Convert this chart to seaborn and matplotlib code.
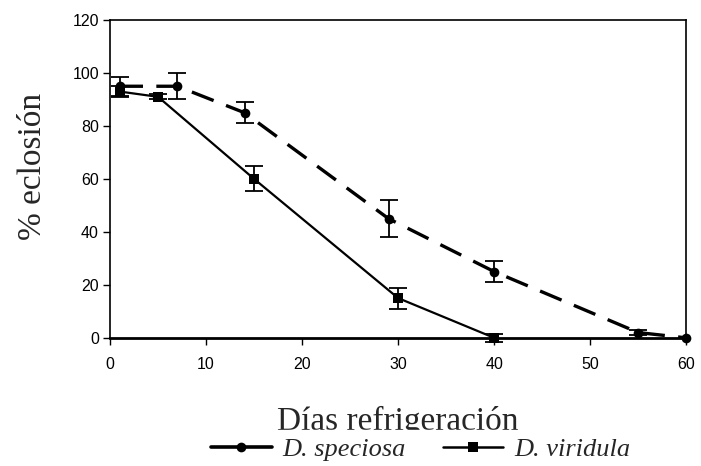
import matplotlib
matplotlib.use("Agg")
import matplotlib.pyplot as plt
from matplotlib.lines import Line2D
import seaborn as sns
import pandas as pd

# Hatching (%) after days of refrigeration, mean ± error
dias_speciosa = [1, 7, 14, 29, 40, 55, 60]
eclosion_speciosa = [95, 95, 85, 45, 25, 2, 0]
error_speciosa = [3.5, 5, 4, 7, 4, 1, 0]

dias_viridula = [1, 5, 15, 30, 40]
eclosion_viridula = [93, 91, 60, 15, 0]
error_viridula = [2, 1, 4.7, 4, 1.5]

x_ticks = [0, 10, 20, 30, 40, 50, 60]
y_ticks = [0, 20, 40, 60, 80, 100, 120]

df_sp = pd.DataFrame({"dias": dias_speciosa, "eclosion": eclosion_speciosa, "err": error_speciosa})
df_vi = pd.DataFrame({"dias": dias_viridula, "eclosion": eclosion_viridula, "err": error_viridula})

sns.set_style("white")
plt.rcParams["font.family"] = ["Liberation Sans", "DejaVu Sans"]

fig = plt.figure(figsize=(7.01, 4.66), dpi=100)
ax = fig.add_axes([0.157, 0.275, 0.822, 0.682])

sns.lineplot(data=df_sp, x="dias", y="eclosion", ax=ax, color="black",
             linewidth=2.4, marker="o", markersize=7, markeredgewidth=0,
             dashes=False, zorder=3)
ax.lines[-1].set_dashes((7, 4))
sns.lineplot(data=df_vi, x="dias", y="eclosion", ax=ax, color="black",
             linewidth=1.6, marker="s", markersize=6.5, markeredgewidth=0,
             zorder=3)
for ln in ax.lines:
    ln.set_clip_on(False)

# error bars only where there is a spread
for d in (df_sp, df_vi):
    d = d[d["err"] > 0]
    ax.errorbar(d["dias"], d["eclosion"], yerr=d["err"], fmt="none",
                ecolor="black", elinewidth=1.3, capsize=6.5, capthick=1.3,
                zorder=4, clip_on=False)

ax.set_xlim(0, 60)
ax.set_ylim(0, 120)
ax.set_xticks(x_ticks)
ax.set_yticks(y_ticks)
ax.tick_params(axis="both", labelsize=11.5, colors="black", length=5,
               width=1, direction="out")
ax.tick_params(axis="x", pad=9)
ax.tick_params(axis="y", pad=3)
ax.tick_params(left=True, bottom=True)

for side, sp in ax.spines.items():
    sp.set_visible(True)
    sp.set_color("black")
    sp.set_linewidth(1.2)
ax.spines["bottom"].set_linewidth(2.0)

serif = ["Liberation Serif", "DejaVu Serif"]
ax.set_ylabel("% eclosión", fontsize=24, family=serif)
ax.set_xlabel("Días refrigeración", fontsize=24, family=serif)
ax.yaxis.set_label_coords(-0.108, 0.54)
ax.xaxis.set_label_coords(0.5, -0.215)

handles = [
    Line2D([], [], color="black", linewidth=2.6, marker="o", markersize=7,
           markeredgewidth=0),
    Line2D([], [], color="black", linewidth=1.8, marker="s", markersize=6.5,
           markeredgewidth=0),
]
leg = fig.legend(handles, ["D. speciosa", "D. viridula"], loc="center",
                 bbox_to_anchor=(0.600, 0.036), ncol=2, frameon=True,
                 facecolor="white", edgecolor="white", framealpha=1,
                 fancybox=False, handlelength=2.3, handletextpad=0.4,
                 columnspacing=1.4, borderpad=0.3,
                 prop={"family": serif, "style": "italic", "size": 19})

fig.savefig("out.png", dpi=100)
